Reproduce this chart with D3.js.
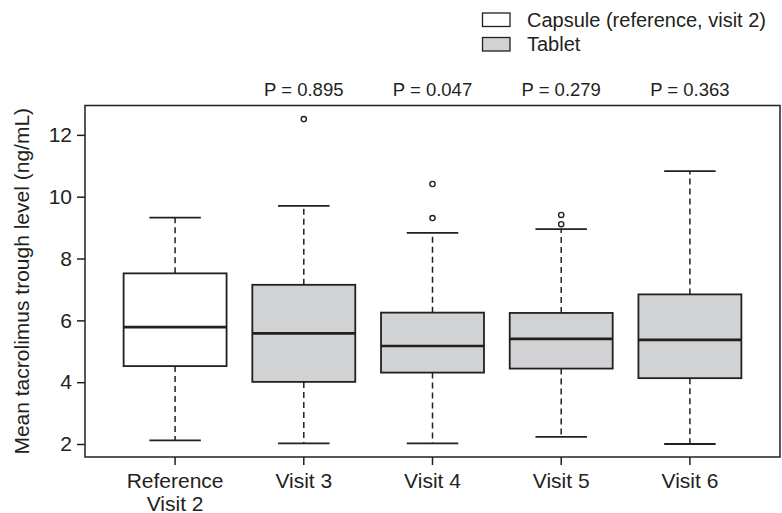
<!DOCTYPE html>
<html>
<head>
<meta charset="utf-8">
<script src="https://cdn.jsdelivr.net/npm/d3@7"></script>
<style>
  body { margin: 0; background: #fff; }
  text { font-family: "Liberation Sans", Arial, sans-serif; fill: #231f20; }
</style>
</head>
<body>
<script>
// groups along the x axis
const groups = ["Reference\nVisit 2", "Visit 3", "Visit 4", "Visit 5", "Visit 6"];
const kinds = ["capsule", "tablet", "tablet", "tablet", "tablet"];
// five-number summaries
const whiskerLow = [2.12, 2.02, 2.02, 2.23, 2.00];
const q1 = [4.52, 4.01, 4.31, 4.44, 4.13];
const median = [5.78, 5.58, 5.17, 5.40, 5.37];
const q3 = [7.52, 7.15, 6.25, 6.24, 6.84];
const whiskerHigh = [9.32, 9.70, 8.83, 8.95, 10.83];
const outliers = [[], [12.51], [10.41, 9.31], [9.41, 9.11], []];
const pValues = [null, "P = 0.895", "P = 0.047", "P = 0.279", "P = 0.363"];
const yTicks = [2, 4, 6, 8, 10, 12];
const legendLabels = ["Capsule (reference, visit 2)", "Tablet"];

const width = 782, height = 513;
const margin = {top: 105.5, right: 2, bottom: 56, left: 85};
const ink = "#231f20";
const fills = {capsule: "#ffffff", tablet: "#d1d2d4"};

const svg = d3.select("body").append("svg")
    .attr("width", width)
    .attr("height", height);

const x = d3.scaleBand()
    .domain(groups)
    .range([margin.left, width - margin.right])
    .paddingOuter(0.2)
    .paddingInner(0);
const y = d3.scaleLinear()
    .domain([1.58, 12.95])
    .range([height - margin.bottom, margin.top]);

const boxW = x.bandwidth() * 0.8;
const cx = g => x(g) + x.bandwidth() / 2;

// y axis
const yAxis = svg.append("g")
    .attr("transform", `translate(${margin.left},0)`)
    .call(d3.axisLeft(y).tickValues(yTicks).tickSize(8).tickPadding(5));
yAxis.select(".domain").remove();
yAxis.selectAll(".tick line").attr("stroke", ink).attr("stroke-width", 1.5);
yAxis.selectAll(".tick text").attr("font-size", 21).attr("font-family", null).style("fill", ink);

// x axis
const xAxis = svg.append("g")
    .attr("transform", `translate(0,${height - margin.bottom})`)
    .call(d3.axisBottom(x).tickSize(8).tickFormat(""));
xAxis.select(".domain").remove();
xAxis.selectAll(".tick line").attr("stroke", ink).attr("stroke-width", 1.5);
xAxis.selectAll(".tick").append("text")
    .attr("text-anchor", "middle")
    .attr("font-size", 21)
    .style("fill", ink)
    .selectAll("tspan")
    .data(d => d.split("\n"))
    .join("tspan")
    .attr("x", 0)
    .attr("y", (d, i) => 31 + i * 22.5)
    .text(d => d);

// frame
svg.append("rect")
    .attr("x", margin.left)
    .attr("y", margin.top)
    .attr("width", width - margin.right - margin.left)
    .attr("height", height - margin.bottom - margin.top)
    .attr("fill", "none")
    .attr("stroke", ink)
    .attr("stroke-width", 1.5);

// y axis title
svg.append("text")
    .attr("transform", `translate(29,${(margin.top + height - margin.bottom) / 2}) rotate(-90)`)
    .attr("text-anchor", "middle")
    .attr("font-size", 21)
    .text("Mean tacrolimus trough level (ng/mL)");

// boxes
const box = svg.append("g").selectAll("g")
    .data(groups)
    .join("g");

// dashed whiskers
box.append("line")
    .attr("x1", cx).attr("x2", cx)
    .attr("y1", (d, i) => y(q3[i])).attr("y2", (d, i) => y(whiskerHigh[i]))
    .attr("stroke", ink).attr("stroke-width", 1.5).attr("stroke-dasharray", "6,4");
box.append("line")
    .attr("x1", cx).attr("x2", cx)
    .attr("y1", (d, i) => y(q1[i])).attr("y2", (d, i) => y(whiskerLow[i]))
    .attr("stroke", ink).attr("stroke-width", 1.5).attr("stroke-dasharray", "6,4");

// whisker caps
[whiskerHigh, whiskerLow].forEach(arr => {
    box.append("line")
        .attr("x1", d => cx(d) - boxW / 4).attr("x2", d => cx(d) + boxW / 4)
        .attr("y1", (d, i) => y(arr[i])).attr("y2", (d, i) => y(arr[i]))
        .attr("stroke", ink).attr("stroke-width", 1.8);
});

box.append("rect")
    .attr("x", d => cx(d) - boxW / 2)
    .attr("width", boxW)
    .attr("y", (d, i) => y(q3[i]))
    .attr("height", (d, i) => y(q1[i]) - y(q3[i]))
    .attr("fill", (d, i) => fills[kinds[i]])
    .attr("stroke", ink)
    .attr("stroke-width", 1.8);

box.append("line")
    .attr("x1", d => cx(d) - boxW / 2).attr("x2", d => cx(d) + boxW / 2)
    .attr("y1", (d, i) => y(median[i])).attr("y2", (d, i) => y(median[i]))
    .attr("stroke", ink).attr("stroke-width", 2.6);

box.selectAll("circle")
    .data((d, i) => outliers[i].map(v => ({g: d, v})))
    .join("circle")
    .attr("cx", d => cx(d.g))
    .attr("cy", d => y(d.v))
    .attr("r", 2.6)
    .attr("fill", "none")
    .attr("stroke", ink)
    .attr("stroke-width", 1.4);

// p values above the frame
svg.append("g").selectAll("text")
    .data(groups.filter((d, i) => pValues[i]))
    .join("text")
    .attr("x", cx)
    .attr("y", 96)
    .attr("text-anchor", "middle")
    .attr("font-size", 18.5)
    .text(d => pValues[groups.indexOf(d)]);

// legend
const legend = svg.append("g").selectAll("g")
    .data(legendLabels)
    .join("g")
    .attr("transform", (d, i) => `translate(482.5,${13 + i * 24.5})`);
legend.append("rect")
    .attr("width", 27.5)
    .attr("height", 13.5)
    .attr("fill", (d, i) => i === 0 ? fills.capsule : fills.tablet)
    .attr("stroke", ink)
    .attr("stroke-width", 1.3);
legend.append("text")
    .attr("x", 44.5)
    .attr("y", 13.8)
    .attr("font-size", 20)
    .text(d => d);
</script>
</body>
</html>
